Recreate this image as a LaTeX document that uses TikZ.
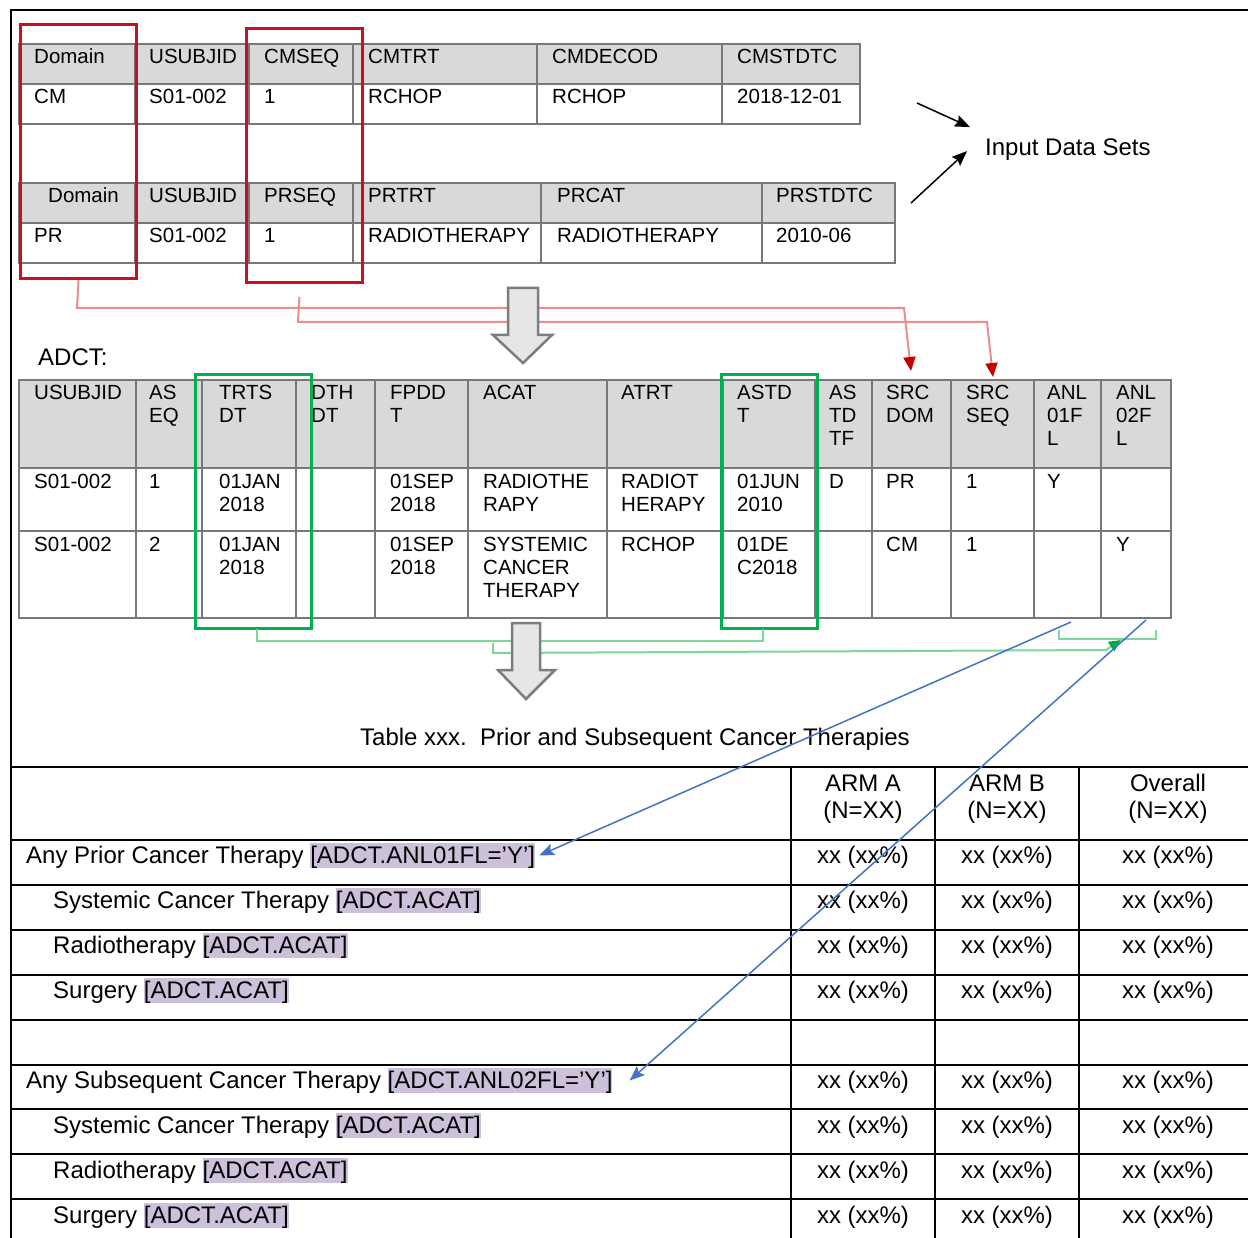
\documentclass[tikz,border=0pt]{standalone}
\usepackage{fontspec}
\setmainfont{Liberation Sans}
\usetikzlibrary{arrows.meta}
\definecolor{hdr}{RGB}{217,217,217}
\definecolor{gridc}{RGB}{120,120,120}
\definecolor{rboxc}{RGB}{200,16,30}
\definecolor{rlinec}{RGB}{236,140,140}
\definecolor{rtipc}{RGB}{200,0,0}
\definecolor{gboxc}{RGB}{0,176,80}
\definecolor{glinec}{RGB}{125,215,155}
\definecolor{gtipc}{RGB}{0,170,70}
\definecolor{blc}{RGB}{68,114,196}
\definecolor{hlc}{RGB}{204,192,218}
\definecolor{arrfill}{RGB}{230,230,230}
\definecolor{arrdraw}{RGB}{125,125,125}
\newcommand\fsa{\fontsize{20.5}{23}\selectfont}
\newcommand\fsb{\fontsize{24}{28}\selectfont}
\newcommand\hlite[1]{{\setlength{\fboxsep}{0pt}\colorbox{hlc}{\rule[-4.5pt]{0pt}{24.5pt}#1}}}
\newcommand\mcell[4]{\foreach \lnx [count=\kk from 0] in {#4}{\node[txa,name=#1-\kk] at (#2,{#3+23*\kk}) {\lnx};}}
\begin{document}
\begin{tikzpicture}[x=1pt,y=-1pt,
  txa/.style={anchor=base west,inner sep=0pt,font=\fsa},
  txb/.style={anchor=base west,inner sep=0pt,font=\fsb},
  txc/.style={anchor=base,inner sep=0pt,font=\fsb},
  gridline/.style={draw=gridc,line width=1.4pt},
  tabline/.style={draw=black,line width=2pt},
  redbox/.style={draw=rboxc,line width=3pt,anchor=north west,inner sep=0pt},
  greenbox/.style={draw=gboxc,line width=3pt,anchor=north west,inner sep=0pt},
  rconn/.style={draw=rlinec,line width=2pt,-{Triangle[length=14pt,width=12pt,color=rtipc]}},
  gconn/.style={draw=glinec,line width=2pt},
  bconn/.style={draw=blc,line width=1.5pt,-{Stealth[length=15pt,width=12pt,inset=3pt]}},
  iarrow/.style={draw=black,line width=1.5pt,-{Stealth[length=15pt,width=12pt,inset=2pt]}},
  blockarrow/.style={fill=arrfill,draw=arrdraw,line width=2.5pt,line join=miter}
]
\useasboundingbox (0,0) rectangle (1248,1238);
\fill[white] (0,0) rectangle (1248,1238);
% frame
\draw[line width=2pt] (1248,10) -- (11,10) -- (11,1238);

% ---------- input table CM
\fill[hdr] (19,44) rectangle (860,84);
\draw[gridline] (19,44) rectangle (860,124);
\draw[gridline] (19,84) -- (860,84);
\foreach \xx in {135,249,353,537,722} \draw[gridline] (\xx,44) -- (\xx,124);
\node[txa,name=c1] at (34,64) {Domain};
\node[txa,name=c2] at (149,64) {USUBJID};
\node[txa,name=c3] at (264,64) {CMSEQ};
\node[txa,name=c4] at (368,64) {CMTRT};
\node[txa,name=c5] at (552,64) {CMDECOD};
\node[txa,name=c6] at (737,64) {CMSTDTC};
\node[txa,name=d1] at (34,104) {CM};
\node[txa,name=d2] at (149,104) {S01-002};
\node[txa,name=d3] at (264,104) {1};
\node[txa,name=d4] at (368,104) {RCHOP};
\node[txa,name=d5] at (552,104) {RCHOP};
\node[txa,name=d6] at (737,104) {2018-12-01};

% ---------- input table PR
\fill[hdr] (19,183) rectangle (895,223);
\draw[gridline] (19,183) rectangle (895,263);
\draw[gridline] (19,223) -- (895,223);
\foreach \xx in {135,249,353,541,762} \draw[gridline] (\xx,183) -- (\xx,263);
\node[txa,name=p1] at (48,203) {Domain};
\node[txa,name=p2] at (149,203) {USUBJID};
\node[txa,name=p3] at (264,203) {PRSEQ};
\node[txa,name=p4] at (368,203) {PRTRT};
\node[txa,name=p5] at (557,203) {PRCAT};
\node[txa,name=p6] at (776,203) {PRSTDTC};
\node[txa,name=q1] at (34,243) {PR};
\node[txa,name=q2] at (149,243) {S01-002};
\node[txa,name=q3] at (264,243) {1};
\node[txa,name=q4] at (368,243) {RADIOTHERAPY};
\node[txa,name=q5] at (557,243) {RADIOTHERAPY};
\node[txa,name=q6] at (776,243) {2010-06};

% red boxes
\node[redbox,minimum width=116pt,minimum height=254pt,name=rbox1] at (19,23) {};
\node[redbox,minimum width=116pt,minimum height=254pt,name=rbox2] at (245,27) {};

% input data sets
\node[txb,name=ids] at (985,156) {Input Data Sets};
\coordinate (ia1) at (917,103);
\coordinate (ia2) at (911,203);
\draw[iarrow] (ia1) -- ([xshift=-15pt,yshift=23pt]ids.west);
\draw[iarrow] (ia2) -- ([xshift=-18pt,yshift=-1pt]ids.west);

% red connectors
\coordinate (srcdom) at (911,371);
\coordinate (srcseq) at (993,377);
\draw[rconn] (rbox1.south) -- (77,308) -- (904,308) -- (srcdom);
\draw[rconn] ([xshift=-5pt,yshift=-13pt]rbox2.south) -- (298,322) -- (987,322) -- (srcseq);

% block arrow 1
\draw[blockarrow] (508,288) -- (538,288) -- (538,335) -- (552,335) -- (523,363) -- (493,335) -- (508,335) -- cycle;

% ADCT label
\node[txb,name=adct] at (38,366) {ADCT:};

% ---------- ADCT table
\fill[hdr] (19,380) rectangle (1171,468);
\draw[gridline] (19,380) rectangle (1171,618);
\draw[gridline] (19,468) -- (1171,468);
\draw[gridline] (19,531) -- (1171,531);
\foreach \xx in {136,202,296,375,468,607,723,815,872,951,1034,1101} \draw[gridline] (\xx,380) -- (\xx,618);
\mcell{h1}{34}{400}{USUBJID}
\mcell{h2}{149}{400}{AS,EQ}
\mcell{h3}{219}{400}{TRTS,DT}
\mcell{h4}{311}{400}{DTH,DT}
\mcell{h5}{390}{400}{FPDD,T}
\mcell{h6}{483}{400}{ACAT}
\mcell{h7}{621}{400}{ATRT}
\mcell{h8}{737}{400}{ASTD,T}
\mcell{h9}{829}{400}{AS,TD,TF}
\mcell{h10}{886}{400}{SRC,DOM}
\mcell{h11}{966}{400}{SRC,SEQ}
\mcell{h12}{1047}{400}{ANL,01F,L}
\mcell{h13}{1116}{400}{ANL,02F,L}
\mcell{a1}{34}{488}{S01-002}
\mcell{a2}{149}{488}{1}
\mcell{a3}{219}{488}{01JAN,2018}
\mcell{a5}{390}{488}{01SEP,2018}
\mcell{a6}{483}{488}{RADIOTHE,RAPY}
\mcell{a7}{621}{488}{RADIOT,HERAPY}
\mcell{a8}{737}{488}{01JUN,2010}
\mcell{a9}{829}{488}{D}
\mcell{a10}{886}{488}{PR}
\mcell{a11}{966}{488}{1}
\mcell{a12}{1047}{488}{Y}
\mcell{b1}{34}{551}{S01-002}
\mcell{b2}{149}{551}{2}
\mcell{b3}{219}{551}{01JAN,2018}
\mcell{b5}{390}{551}{01SEP,2018}
\mcell{b6}{483}{551}{SYSTEMIC,CANCER,THERAPY}
\mcell{b7}{621}{551}{RCHOP}
\mcell{b8}{737}{551}{01DE,C2018}
\mcell{b10}{886}{551}{CM}
\mcell{b11}{966}{551}{1}
\mcell{b13}{1116}{551}{Y}

% green boxes
\node[greenbox,minimum width=116pt,minimum height=254pt,name=gbox1] at (194,373) {};
\node[greenbox,minimum width=96pt,minimum height=254pt,name=gbox2] at (720,373) {};

% green connectors
\coordinate (ga1) at (257,629);
\coordinate (ga2) at (763,629);
\coordinate (gb1) at (493,643);
\coordinate (gc1) at (1059,630);
\coordinate (gc2) at (1156,630);
\coordinate (gcm) at (1121,640);
\draw[gconn] (ga1) -- (257,641) -- (763,641) -- (ga2);
\draw[gconn] (gc1) -- (1059,639) -- (1156,639) -- (gc2);
\draw[gconn,-{Triangle[length=12pt,width=11pt,color=gtipc]}] (gb1) -- (493,653) -- (1106,650) -- (gcm);

% block arrow 2
\draw[blockarrow] (512,623) -- (540,623) -- (540,670) -- (555,670) -- (526,699) -- (498,670) -- (512,670) -- cycle;

% caption
\node[txc,name=cap] at (635,745) {Table xxx.\ \ Prior and Subsequent Cancer Therapies};

% ---------- bottom table
\draw[line width=2.5pt] (11,767) -- (1248,767);
\foreach \yy in {840,885,930,975,1020,1065,1109,1154,1199} \draw[tabline] (11,\yy) -- (1248,\yy);
\foreach \xx in {791,935,1079} \draw[tabline] (\xx,767) -- (\xx,1238);
\node[txc,name=armA1] at (863,791) {ARM A};
\node[txc,name=armA2] at (863,818) {(N=XX)};
\node[txc,name=armB1] at (1007,791) {ARM B};
\node[txc,name=armB2] at (1007,818) {(N=XX)};
\node[txc,name=all1] at (1168,791) {Overall};
\node[txc,name=all2] at (1168,818) {(N=XX)};
\node[txb,name=r1] at (26,863) {Any Prior Cancer Therapy \hlite{[ADCT.ANL01FL=’Y’]}};
\node[txb,name=r2] at (53,908) {Systemic Cancer Therapy \hlite{[ADCT.ACAT]}};
\node[txb,name=r3] at (53,953) {Radiotherapy \hlite{[ADCT.ACAT]}};
\node[txb,name=r4] at (53,998) {Surgery \hlite{[ADCT.ACAT]}};
\node[txb,name=r5] at (26,1088) {Any Subsequent Cancer Therapy \hlite{[ADCT.ANL02FL=’Y’]}};
\node[txb,name=r6] at (53,1133) {Systemic Cancer Therapy \hlite{[ADCT.ACAT]}};
\node[txb,name=r7] at (53,1178) {Radiotherapy \hlite{[ADCT.ACAT]}};
\node[txb,name=r8] at (53,1223) {Surgery \hlite{[ADCT.ACAT]}};
\foreach \yy/\nm in {863/v1,908/v2,953/v3,998/v4,1088/v5,1133/v6,1178/v7,1223/v8}{
  \node[txc,name=\nm-a] at (863,\yy) {xx (xx\%)};
  \node[txc,name=\nm-b] at (1007,\yy) {xx (xx\%)};
  \node[txc,name=\nm-c] at (1168,\yy) {xx (xx\%)};
}

% blue connectors
\coordinate (anl1) at (1071,622);
\coordinate (anl2) at (1146,620);
\draw[bconn] (anl1) -- ([xshift=4pt]r1.east);
\draw[bconn] (anl2) -- ([xshift=17pt]r5.east);
\end{tikzpicture}
\end{document}
